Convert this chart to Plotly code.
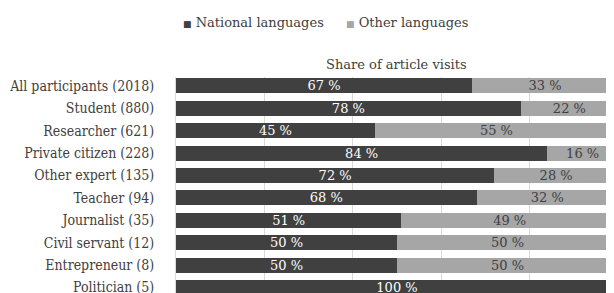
import plotly.graph_objects as go

categories = ["All participants (2018)", "Student (880)", "Researcher (621)",
              "Private citizen (228)", "Other expert (135)", "Teacher (94)",
              "Journalist (35)", "Civil servant (12)", "Entrepreneur (8)",
              "Politician (5)"]
national = [67, 78, 45, 84, 72, 68, 51, 50, 50, 100]
other = [33, 22, 55, 16, 28, 32, 49, 50, 50, 0]
series_names = ["National languages", "Other languages"]

FONT = "DejaVu Serif"
TICKFONT = "DejaVu Serif Condensed, DejaVu Serif"
FS = 13
DARK = "#404040"
LIGHT = "#a6a6a6"
TXT = "#404040"

def labels(vals):
    return [f"{v} %" if v > 0 else "" for v in vals]

fig = go.Figure()
fig.add_trace(go.Bar(
    y=categories, x=national, orientation="h", name=series_names[0],
    marker=dict(color=DARK, line=dict(width=0)),
    text=labels(national), textposition="inside", insidetextanchor="middle",
    textangle=0, constraintext="none",
    textfont=dict(family=FONT, size=FS, color="white"),
))
fig.add_trace(go.Bar(
    y=categories, x=other, orientation="h", name=series_names[1],
    marker=dict(color=LIGHT, line=dict(width=0)),
    text=labels(other), textposition="inside", insidetextanchor="middle",
    textangle=0, constraintext="none",
    textfont=dict(family=FONT, size=FS, color=TXT),
))

L, T, R = 168, 69, 4
PW = 614 - L - R
PH = 293 - T
def px(x):
    return (x - L) / PW
def py(y):
    return 1 + (T - y) / PH

fig.update_layout(
    width=614, height=293,
    barmode="stack", bargap=0.33,
    margin=dict(l=L, r=R, t=T, b=0),
    paper_bgcolor="white", plot_bgcolor="white",
    font=dict(family=FONT, size=FS, color=TXT),
    showlegend=False,
    annotations=[
        dict(text="Share of article visits", xref="paper", yref="paper",
             x=px(388), y=py(56), xanchor="center", yanchor="middle",
             showarrow=False, font=dict(family=FONT, size=FS, color=TXT)),
        dict(text=f"<span style='color:{DARK};font-size:9px'>■</span> {series_names[0]}",
             xref="paper", yref="paper", x=px(173), y=py(15),
             xanchor="left", yanchor="middle", showarrow=False,
             font=dict(family=FONT, size=FS, color=TXT)),
        dict(text=f"<span style='color:{LIGHT};font-size:9px'>■</span> {series_names[1]}",
             xref="paper", yref="paper", x=px(336), y=py(15),
             xanchor="left", yanchor="middle", showarrow=False,
             font=dict(family=FONT, size=FS, color=TXT)),
    ],
)
fig.update_xaxes(range=[0, 100], dtick=20, showgrid=True, gridcolor="#d9d9d9",
                 gridwidth=1, showticklabels=False, zeroline=False, fixedrange=True)
fig.update_yaxes(categoryorder="array", categoryarray=categories,
                 range=[9.6, -0.4], showgrid=False, showline=True, automargin=False,
                 linecolor="#d9d9d9", linewidth=1, ticks="", ticklabelstandoff=18,
                 tickfont=dict(family=TICKFONT, size=14, color=TXT))

fig.write_html("out.html")
